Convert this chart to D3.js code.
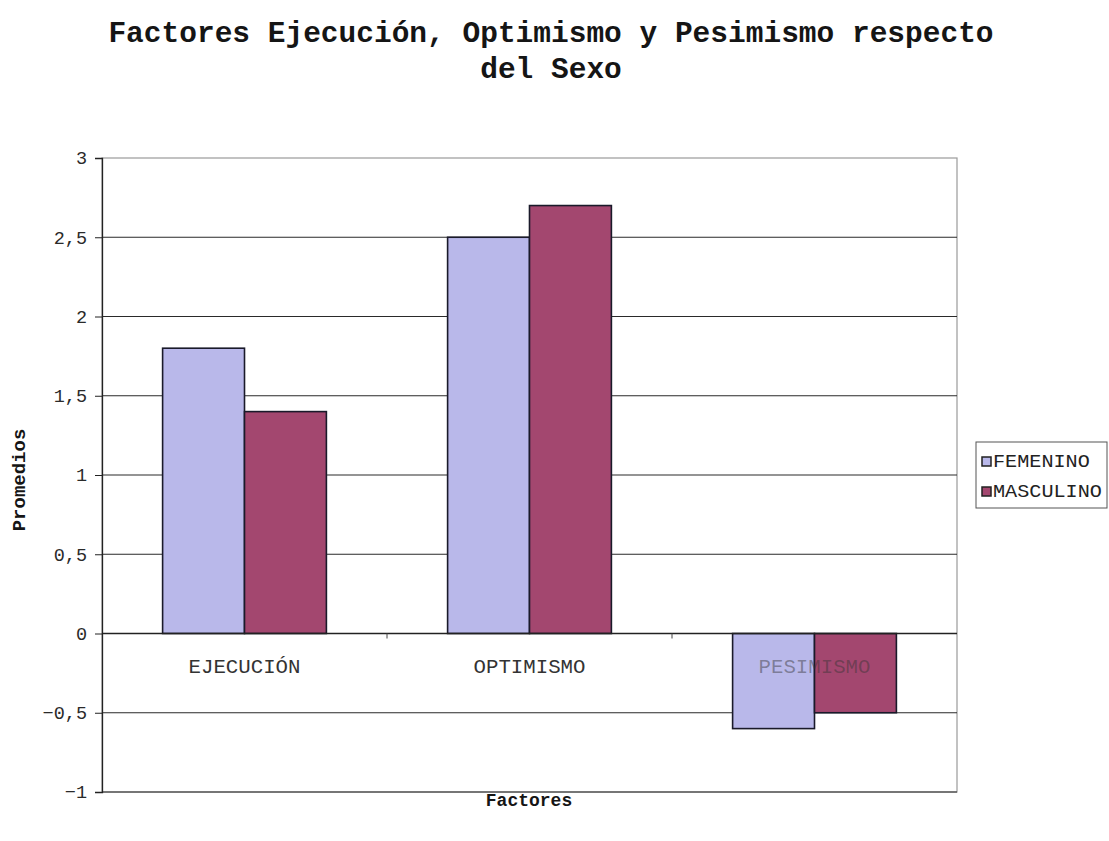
<!DOCTYPE html>
<html lang="es">
<head>
<meta charset="utf-8">
<title>Factores Ejecución, Optimismo y Pesimismo respecto del Sexo</title>
<script src="https://cdn.jsdelivr.net/npm/d3@7"></script>
<style>
  html, body { margin: 0; padding: 0; background: #fff; }
  svg { display: block; }
</style>
</head>
<body>
<svg id="chart" width="1109" height="841"></svg>
<script>
// Mean scores per factor, by sex
const categories = ["EJECUCIÓN", "OPTIMISMO", "PESIMISMO"];
const series = ["FEMENINO", "MASCULINO"];
const femenino = [1.8, 2.5, -0.6];
const masculino = [1.4, 2.7, -0.5];
const yTicks = [-1, -0.5, 0, 0.5, 1, 1.5, 2, 2.5, 3];
const titleLines = ["Factores Ejecución, Optimismo y Pesimismo respecto", "del Sexo"];

const values = { FEMENINO: femenino, MASCULINO: masculino };
const colors = { FEMENINO: "#b9b8ea", MASCULINO: "#a3476f" };

const svg = d3.select("#chart");
const mono = "'Liberation Mono', 'Courier New', 'DejaVu Sans Mono', monospace";

const plot = { left: 102, right: 957, top: 158, bottom: 792 };

const y = d3.scaleLinear().domain([-1, 3]).range([plot.bottom, plot.top]);
const x0 = d3.scaleBand().domain(categories).range([plot.left, plot.right]).padding(0);
const x1 = d3.scaleBand().domain(series).range([0, x0.bandwidth()])
  .paddingInner(0).paddingOuter(0.74);

const fmt = v => String(v).replace(".", ",").replace("-", "\u2212");

// Title
svg.append("g").selectAll("text").data(titleLines).join("text")
  .attr("x", 551).attr("y", (d, i) => 42 + i * 36)
  .attr("text-anchor", "middle")
  .attr("font-family", mono).attr("font-weight", "bold")
  .attr("font-size", 29.5).attr("fill", "#151515")
  .text(d => d);

// Plot frame (top and right edges in grey)
svg.append("rect")
  .attr("x", plot.left).attr("y", plot.top)
  .attr("width", plot.right - plot.left).attr("height", plot.bottom - plot.top)
  .attr("fill", "none").attr("stroke", "#9a9a9a").attr("stroke-width", 1.2);

// Horizontal gridlines
svg.append("g").selectAll("line").data(yTicks.filter(t => t < 3)).join("line")
  .attr("x1", plot.left).attr("x2", plot.right)
  .attr("y1", d => y(d)).attr("y2", d => y(d))
  .attr("stroke", "#2a2a2a").attr("stroke-width", 1.1);

// Value axis
const yAxis = svg.append("g")
  .attr("transform", `translate(${plot.left},0)`)
  .call(d3.axisLeft(y).tickValues(yTicks).tickSize(7).tickPadding(8).tickFormat(fmt));
yAxis.select(".domain").attr("stroke", "#222").attr("stroke-width", 1.3);
yAxis.selectAll(".tick line").attr("stroke", "#222");
yAxis.selectAll(".tick text")
  .attr("font-family", mono).attr("font-size", 18.5).attr("fill", "#2a2a2a");

// Bars
const groups = svg.append("g").selectAll("g").data(categories).join("g")
  .attr("transform", c => `translate(${x0(c)},0)`);
groups.selectAll("rect")
  .data((c, i) => series.map(s => ({ s, v: values[s][i] })))
  .join("rect")
  .attr("x", d => x1(d.s))
  .attr("width", x1.bandwidth())
  .attr("y", d => y(Math.max(0, d.v)))
  .attr("height", d => Math.abs(y(d.v) - y(0)))
  .attr("fill", d => colors[d.s])
  .attr("stroke", "#1a1a2a").attr("stroke-width", 1.6);

// Category axis along zero
const xAxis = svg.append("g")
  .attr("transform", `translate(0,${y(0)})`);
xAxis.append("line")
  .attr("x1", plot.left).attr("x2", plot.right)
  .attr("stroke", "#222").attr("stroke-width", 1.3);
xAxis.selectAll("line.tk").data(categories.slice(1)).join("line")
  .attr("class", "tk")
  .attr("x1", c => x0(c)).attr("x2", c => x0(c))
  .attr("y1", 0).attr("y2", 5)
  .attr("stroke", "#444");
xAxis.selectAll("text").data(categories).join("text")
  .attr("x", c => x0(c) + x0.bandwidth() / 2)
  .attr("y", 39)
  .attr("text-anchor", "middle")
  .attr("font-family", mono).attr("font-size", 20.5)
  .attr("textLength", 112).attr("lengthAdjust", "spacingAndGlyphs")
  .attr("fill", "#333").attr("fill-opacity", (c, i) => i === 2 ? 0.45 : 1)
  .text(c => c);

// Axis titles
svg.append("text")
  .attr("transform", "translate(25,480) rotate(-90)")
  .attr("text-anchor", "middle")
  .attr("font-family", mono).attr("font-weight", "bold").attr("font-size", 19)
  .attr("fill", "#151515")
  .text("Promedios");
svg.append("text")
  .attr("x", 529).attr("y", 806)
  .attr("text-anchor", "middle")
  .attr("font-family", mono).attr("font-weight", "bold").attr("font-size", 18)
  .attr("fill", "#151515")
  .text("Factores");

// Legend
const legend = svg.append("g").attr("transform", "translate(976,442)");
legend.append("rect")
  .attr("width", 131).attr("height", 66)
  .attr("fill", "#fff").attr("stroke", "#555").attr("stroke-width", 1);
const items = legend.selectAll("g").data(series).join("g")
  .attr("transform", (d, i) => `translate(6,${20 + i * 30})`);
items.append("rect")
  .attr("x", 0).attr("y", -5).attr("width", 9).attr("height", 9)
  .attr("fill", d => colors[d]).attr("stroke", "#222").attr("stroke-width", 1.5);
items.append("text")
  .attr("x", 11).attr("y", 5)
  .attr("font-family", mono).attr("font-size", 18)
  .attr("textLength", d => d.length * 12.1).attr("lengthAdjust", "spacingAndGlyphs")
  .attr("fill", "#222")
  .text(d => d);
</script>
</body>
</html>
